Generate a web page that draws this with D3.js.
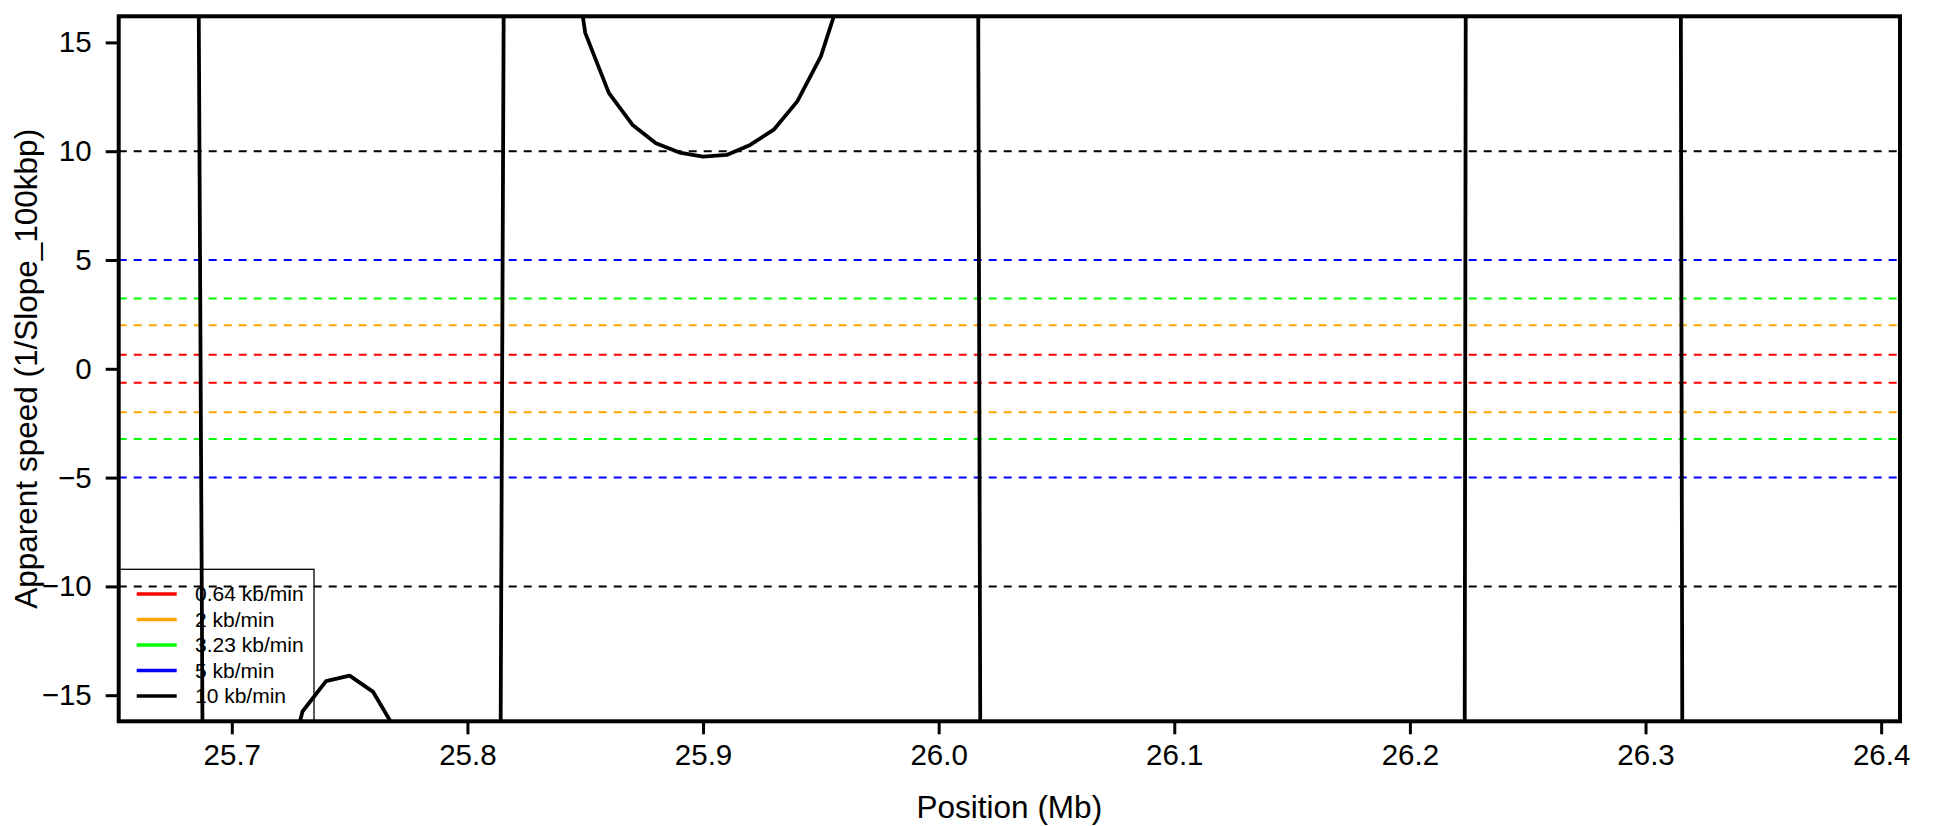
<!DOCTYPE html>
<html>
<head>
<meta charset="utf-8">
<script src="https://cdn.jsdelivr.net/npm/d3@7"></script>
<style>
  html, body { margin: 0; padding: 0; background: #fff; }
  svg { display: block; }
  text { font-family: "Liberation Sans", Arial, Helvetica, sans-serif; fill: #000; }
</style>
</head>
<body>
<svg id="chart" width="1937" height="826"></svg>
<script>
// ---- data ----
const positions = [
  25.68, 25.69, 25.70, 25.71, 25.72, 25.73, 25.74, 25.75, 25.76, 25.77,
  25.78, 25.79, 25.80, 25.81, 25.82, 25.83, 25.84, 25.85, 25.86, 25.87,
  25.88, 25.89, 25.90, 25.91, 25.92, 25.93, 25.94, 25.95, 25.96, 25.97,
  25.98, 25.99, 26.00, 26.01, 26.02, 26.03, 26.04, 26.05, 26.06, 26.07,
  26.08, 26.09, 26.10, 26.11, 26.12, 26.13, 26.14, 26.15, 26.16, 26.17,
  26.18, 26.19, 26.20, 26.21, 26.22, 26.23, 26.24, 26.25, 26.26, 26.27,
  26.28, 26.29, 26.30, 26.31, 26.32, 26.33, 26.34, 26.35, 26.36, 26.37,
  26.38
];
const speeds = [
  140, -67, -38, -26, -20, -15.75, -14.35, -14.1, -14.85, -16.69,
  -20, -28, -45, -121.5, 134.5, 38, 22.7, 15.44, 12.68, 11.22,
  10.37, 9.94, 9.75, 9.83, 10.29, 10.99, 12.29, 14.36, 17.7, 23,
  33, 52, 95, 276, -106, -60, -42, -34, -29, -26,
  -24, -22.5, -21.5, -21, -21, -21.5, -22.5, -24, -26.5, -30,
  -35, -43, -58, -90, -267, 501, 120, 70, 55, 50,
  52, 65, 110, 290, -258, -110, -70, -55, -50, -52,
  -60
];
const refSpeeds = [0.64, 2, 3.23, 5, 10];
const refColors = ["#FF0000", "#FFA500", "#00FF00", "#0000FF", "#000000"];
const refLabels = ["0.64 kb/min", "2 kb/min", "3.23 kb/min", "5 kb/min", "10 kb/min"];
const xTicks = [25.7, 25.8, 25.9, 26.0, 26.1, 26.2, 26.3, 26.4];
const yTicks = [-15, -10, -5, 0, 5, 10, 15];
const xDomain = [25.652, 26.408];
const yDomain = [-16.2, 16.2];
const xTitle = "Position (Mb)";
const yTitle = "Apparent speed (1/Slope_100kbp)";

// ---- layout ----
const W = 1937, H = 826;
const L = 118.7, R = 1900, T = 16.3, B = 721.3;

const svg = d3.select("#chart");
svg.append("rect").attr("width", W).attr("height", H).attr("fill", "#fff");

const x = d3.scaleLinear().domain(xDomain).range([L, R]);
const y = d3.scaleLinear().domain(yDomain).range([B, T]);

svg.append("defs").append("clipPath").attr("id", "plotclip")
  .append("rect").attr("x", L).attr("y", T).attr("width", R - L).attr("height", B - T);

const plot = svg.append("g").attr("clip-path", "url(#plotclip)");

// reference dashed lines (both signs)
refSpeeds.forEach((v, i) => {
  [v, -v].forEach(val => {
    plot.append("line")
      .attr("x1", L).attr("x2", R)
      .attr("y1", y(val)).attr("y2", y(val))
      .attr("stroke", refColors[i])
      .attr("stroke-width", 2)
      .attr("stroke-dasharray", "8,7");
  });
});

// data line
const pts = positions.map((p, i) => [p, speeds[i]]);
plot.append("path")
  .datum(pts)
  .attr("fill", "none")
  .attr("stroke", "#000")
  .attr("stroke-width", 3.8)
  .attr("stroke-linejoin", "round")
  .attr("d", d3.line().x(d => x(d[0])).y(d => y(d[1])));

// axes
const fmtX = d3.format(".1f");
const xAxis = svg.append("g")
  .attr("transform", `translate(0,${B})`)
  .call(d3.axisBottom(x).tickValues(xTicks).tickFormat(fmtX).tickSize(13).tickPadding(9.5));
xAxis.select(".domain").remove();
xAxis.selectAll(".tick line").attr("stroke", "#000").attr("stroke-width", 3);
xAxis.selectAll(".tick text").attr("font-size", 29.5).attr("fill", "#000")
  .style("font-family", '"Liberation Sans", Arial, sans-serif');

const fmtY = v => (v < 0 ? "\u2212" + Math.abs(v) : String(v));
const yAxis = svg.append("g")
  .attr("transform", `translate(${L},0)`)
  .call(d3.axisLeft(y).tickValues(yTicks).tickFormat(fmtY).tickSize(13).tickPadding(14));
yAxis.select(".domain").remove();
yAxis.selectAll(".tick line").attr("stroke", "#000").attr("stroke-width", 3);
yAxis.selectAll(".tick text").attr("font-size", 29.5).attr("fill", "#000")
  .style("font-family", '"Liberation Sans", Arial, sans-serif');

// box
svg.append("rect")
  .attr("x", L).attr("y", T).attr("width", R - L).attr("height", B - T)
  .attr("fill", "none").attr("stroke", "#000").attr("stroke-width", 4);

// titles
svg.append("text")
  .attr("x", (L + R) / 2).attr("y", 818)
  .attr("text-anchor", "middle").attr("font-size", 31.5)
  .text(xTitle);
svg.append("text")
  .attr("transform", `translate(36.5,${(T + B) / 2}) rotate(-90)`)
  .attr("text-anchor", "middle").attr("font-size", 31.5)
  .text(yTitle);

// legend
const lg = svg.append("g");
lg.append("rect")
  .attr("x", L).attr("y", 569.3).attr("width", 314 - L).attr("height", B - 569.3)
  .attr("fill", "none").attr("stroke", "#000").attr("stroke-width", 1.3);
const rowY = d3.scalePoint().domain(refLabels).range([594, 696]);
refLabels.forEach((lab, i) => {
  lg.append("line")
    .attr("x1", 136.7).attr("x2", 176.7)
    .attr("y1", rowY(lab)).attr("y2", rowY(lab))
    .attr("stroke", refColors[i]).attr("stroke-width", 3.7);
  lg.append("text")
    .attr("x", 195).attr("y", rowY(lab)).attr("dy", "0.35em")
    .attr("font-size", 21)
    .text(lab);
});
</script>
</body>
</html>
